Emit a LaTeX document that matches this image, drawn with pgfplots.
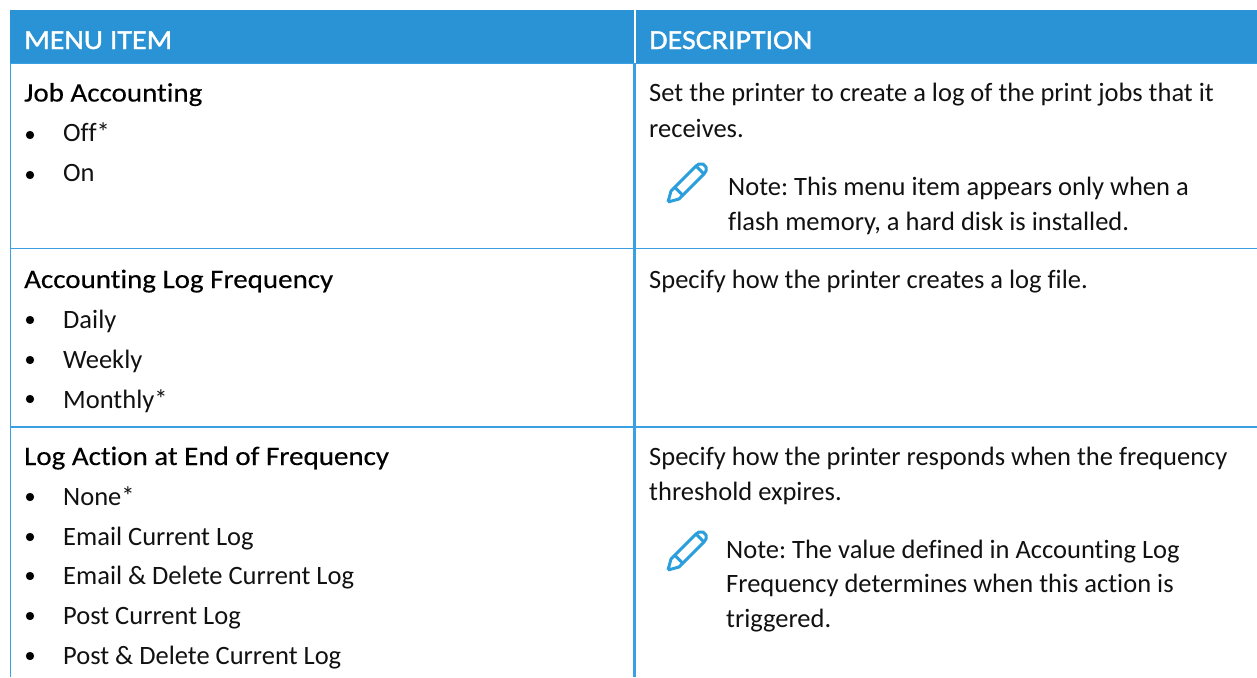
\documentclass[border=0pt]{standalone}
\usepackage{pgfplots}
\pgfplotsset{compat=1.18}
\usepackage{fontspec}
\setmainfont[Ligatures=NoCommon]{Carlito}
\newfontfamily\ttlf[Ligatures=NoCommon,FakeStretch=1.09,FakeBold=0.35]{Carlito}
\newfontfamily\hdrf[Ligatures=NoCommon,FakeStretch=1.09,FakeBold=1.3]{Carlito}
\definecolor{hdr}{HTML}{2A93D5}
\definecolor{rule}{HTML}{3AA0E3}
\definecolor{pen}{HTML}{2A9FDC}
\definecolor{txt}{HTML}{111111}
\frenchspacing
\newcommand{\Tx}[3]{\node[anchor=base west,inner sep=0pt,text=txt,font=\fontsize{26.5}{30}\selectfont] at (axis cs:#1,#2) {#3};}
\newcommand{\Tt}[3]{\node[anchor=base west,inner sep=0pt,text=black,font=\ttlf\fontsize{26.6}{30}\selectfont] at (axis cs:#1,#2) {#3};}
\newcommand{\Hx}[3]{\node[anchor=base west,inner sep=0pt,text=white,font=\hdrf\fontsize{27.5}{30}\selectfont] at (axis cs:#1,#2) {#3};}
\begin{document}
\begin{tikzpicture}
\begin{axis}[hide axis,scale only axis,width=1257pt,height=677pt,xmin=0,xmax=1257,ymin=0,ymax=677,y dir=reverse,clip=true]
\addplot[draw=white,line width=0pt] coordinates {(0,0)(1257,677)};
% header band
\addplot[fill=hdr,draw=none] coordinates {(10,10)(1257,10)(1257,63)(10,63)} -- cycle;
% rules
\addplot[rule,line width=1.9pt] coordinates {(10,63.5)(1257,63.5)};
\addplot[rule,line width=1.9pt] coordinates {(10,248.5)(1257,248.5)};
\addplot[rule,line width=1.9pt] coordinates {(10,427)(1257,427)};
\addplot[rule,line width=1.9pt] coordinates {(10.5,63)(10.5,677)};
\addplot[rule,line width=2.2pt] coordinates {(634.5,63)(634.5,677)};
\addplot[white,line width=2pt] coordinates {(634.5,10)(634.5,63)};
% bullets
\addplot[only marks,mark=*,mark size=3.9pt,mark options={fill=black,draw=black}] coordinates {
(30,135)(30,175)(30,320)(30,360)(30,399)(30,497)(30,537)(30,576)(30,616)(30,656)};
% pencil icons
\addplot[pen,line width=3pt,line join=round] coordinates {(668,202)(671,191)(696,166)(699,164)(703,164)(706,167)(706,171)(704,174)(679,199)(668,202)};
\addplot[pen,line width=3pt] coordinates {(674.5,187)(683,195.5)};
\addplot[pen,line width=3pt] coordinates {(696,166)(704,174)};
\addplot[pen,line width=3pt,line join=round] coordinates {(668,570)(671,559)(696,534)(699,532)(703,532)(706,535)(706,539)(704,542)(679,567)(668,570)};
\addplot[pen,line width=3pt] coordinates {(674.5,555)(683,563.5)};
\addplot[pen,line width=3pt] coordinates {(696,534)(704,542)};
% text
\Hx{24}{49}{MENU ITEM}
\Hx{649}{49}{DESCRIPTION}
\Tt{24}{101.5}{Job Accounting}
\Tx{63}{141.5}{Off*}
\Tx{63}{181.5}{On}
\Tx{649}{101.5}{Set the printer to create a log of the print jobs that it}
\Tx{649}{137}{receives.}
\Tx{728}{195}{Note: This menu item appears only when a}
\Tx{728}{230}{flash memory, a hard disk is installed.}
\Tt{24}{288}{Accounting Log Frequency}
\Tx{63}{328}{Daily}
\Tx{63}{368}{Weekly}
\Tx{63}{408}{Monthly*}
\Tx{649}{288}{Specify how the printer creates a log file.}
\Tt{24}{465}{Log Action at End of Frequency}
\Tx{63}{505}{None*}
\Tx{63}{545}{Email Current Log}
\Tx{63}{584}{Email \& Delete Current Log}
\Tx{63}{624}{Post Current Log}
\Tx{63}{664}{Post \& Delete Current Log}
\Tx{649}{465}{Specify how the printer responds when the frequency}
\Tx{649}{500}{threshold expires.}
\Tx{726}{558}{Note: The value defined in Accounting Log}
\Tx{726}{592}{Frequency determines when this action is}
\Tx{726}{627}{triggered.}
\end{axis}
\end{tikzpicture}
\end{document}
